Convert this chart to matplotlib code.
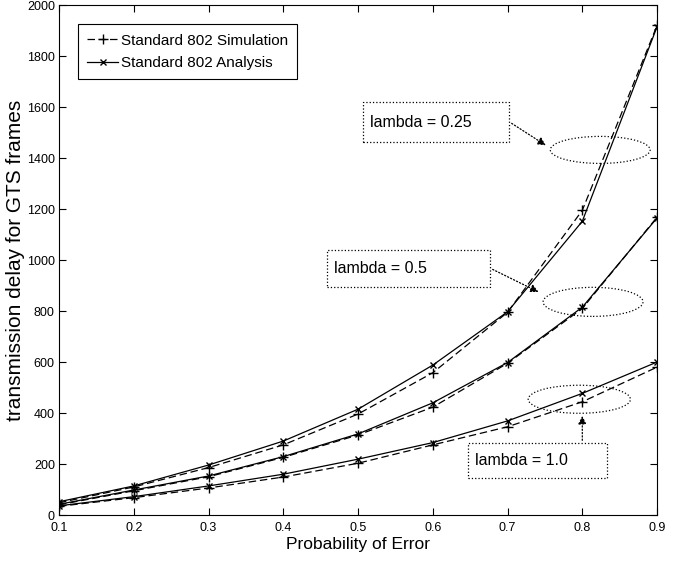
import numpy as np
import matplotlib
matplotlib.use('Agg')
import matplotlib.pyplot as plt
from matplotlib.patches import Rectangle, Ellipse

plt.rcParams['font.family'] = ['Liberation Sans Narrow', 'Liberation Sans', 'DejaVu Sans']

# probability of error
p_err = [0.1, 0.2, 0.3, 0.4, 0.5, 0.6, 0.7, 0.8, 0.9]

# lambda = 0.25
sim_025 = [48, 110, 186, 275, 396, 558, 795, 1195, 1920]
ana_025 = [52, 114, 196, 290, 415, 588, 797, 1152, 1915]
# lambda = 0.5
sim_05 = [40, 95, 150, 226, 314, 423, 595, 810, 1168]
ana_05 = [42, 98, 153, 229, 318, 440, 598, 815, 1165]
# lambda = 1.0
sim_10 = [34, 68, 106, 149, 203, 275, 346, 444, 580]
ana_10 = [36, 72, 114, 160, 219, 284, 369, 477, 600]

fig = plt.figure(figsize=(6.88, 5.67), dpi=100)
ax = fig.add_axes([0.0858, 0.0917, 0.8692, 0.8993])

simstyle = dict(color='black', linestyle=(0, (6, 3)), linewidth=0.9, marker='+', markersize=7)
anastyle = dict(color='black', linestyle='-', linewidth=0.9, marker='x', markersize=5)

ax.plot(p_err, sim_025, label='Standard 802 Simulation', **simstyle)
ax.plot(p_err, ana_025, label='Standard 802 Analysis', **anastyle)
ax.plot(p_err, sim_05, **simstyle)
ax.plot(p_err, ana_05, **anastyle)
ax.plot(p_err, sim_10, **simstyle)
ax.plot(p_err, ana_10, **anastyle)

ax.set_xlim(0.1, 0.9)
ax.set_ylim(0, 2000)
ax.set_xticks(p_err)
ax.set_yticks(np.arange(0, 2001, 200))
ax.tick_params(direction='in', top=True, right=True, labelsize=9, length=5)
ax.tick_params(axis='x', pad=5)
ax.tick_params(axis='y', pad=3)
ax.set_xlabel('Probability of Error', fontsize=12.5, labelpad=2)
ax.set_ylabel('transmission delay for GTS frames', fontsize=15, labelpad=1)

leg = ax.legend(loc='upper left', bbox_to_anchor=(0.032, 0.962), fontsize=11, fancybox=False,
                edgecolor='black', framealpha=1, handlelength=2.0, borderpad=0.6, labelspacing=0.55,
                handletextpad=0.2, borderaxespad=0)
leg.get_frame().set_linewidth(0.8)

# annotation boxes (axes fraction)
boxes = [
    ('lambda = 0.25', (0.508, 0.731), 0.245, 0.079, (0.905, 0.716), 0.167, 0.053, (0.753, 0.771), (0.818, 0.722)),
    ('lambda = 0.5', (0.448, 0.447), 0.273, 0.073, (0.893, 0.418), 0.167, 0.057, (0.721, 0.484), (0.806, 0.435)),
    ('lambda = 1.0', (0.684, 0.0725), 0.232, 0.069, (0.870, 0.227), 0.171, 0.055, (0.875, 0.141), (0.875, 0.200)),
]
for txt, xy, w, h, ec, ew, eh, a0, a1 in boxes:
    ax.add_patch(Rectangle(xy, w, h, transform=ax.transAxes, fill=False,
                           linestyle=':', linewidth=0.9, edgecolor='black'))
    ax.text(xy[0] + 0.012, xy[1] + h / 2, txt, transform=ax.transAxes, fontsize=11.5,
            va='center', ha='left')
    ax.add_patch(Ellipse(ec, ew, eh, transform=ax.transAxes, fill=False,
                         linestyle=':', linewidth=0.9, edgecolor='black'))
    ax.annotate('', xy=a1, xytext=a0, xycoords='axes fraction', textcoords='axes fraction',
                arrowprops=dict(arrowstyle='-|>', linestyle=':', color='black', lw=0.9,
                                mutation_scale=12))

fig.savefig('out.png', dpi=100)
